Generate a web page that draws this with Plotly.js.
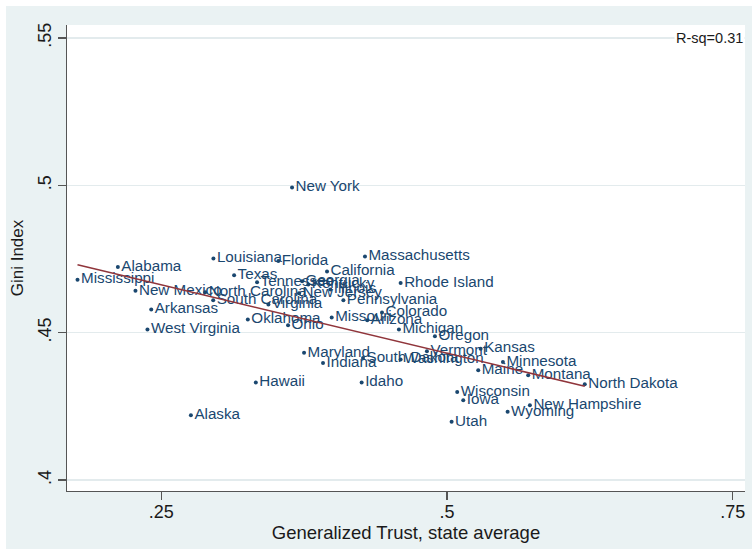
<!DOCTYPE html>
<html>
<head>
<meta charset="utf-8">
<script src="https://cdn.plot.ly/plotly-3.0.1.min.js"></script>
<style>
  html, body { margin: 0; padding: 0; background: #ffffff; }
  #chart { position: absolute; left: 6px; top: 6px; width: 746px; height: 543px; }
</style>
</head>
<body>
<div id="chart"></div>
<script>
// State-level generalized trust vs. Gini index
const states = [
  "New York", "Mississippi", "Alabama", "Louisiana", "New Mexico", "Arkansas",
  "West Virginia", "Texas", "North Carolina", "South Carolina", "Virginia",
  "Oklahoma", "Ohio", "Florida", "California", "Massachusetts", "Rhode Island",
  "Tennessee", "Georgia", "Kentucky", "Illinois", "New Jersey", "Pennsylvania",
  "Missouri", "Arizona", "Colorado", "Michigan", "Oregon", "Vermont",
  "South Dakota", "Washington", "Maryland", "Indiana", "Kansas", "Minnesota",
  "Maine", "Montana", "North Dakota", "Wisconsin", "Iowa", "New Hampshire",
  "Wyoming", "Utah", "Hawaii", "Idaho", "Alaska"
];
const trust = [
  0.3645, 0.1768, 0.2121, 0.2957, 0.2275, 0.2413,
  0.2380, 0.3138, 0.2885, 0.2955, 0.3438,
  0.3258, 0.3610, 0.3525, 0.3951, 0.4283, 0.4595,
  0.3339, 0.3733, 0.3787, 0.3980, 0.3706, 0.4094,
  0.3992, 0.4303, 0.4432, 0.4580, 0.4895, 0.4825,
  0.4266, 0.4595, 0.3750, 0.3916, 0.5295, 0.5490,
  0.5274, 0.5711, 0.6206, 0.5090, 0.5143, 0.5726,
  0.5531, 0.5041, 0.3328, 0.4254, 0.2760
];
const gini = [
  0.4993, 0.4680, 0.4723, 0.4752, 0.4642, 0.4579,
  0.4511, 0.4695, 0.4637, 0.4610, 0.4596,
  0.4545, 0.4525, 0.4743, 0.4708, 0.4759, 0.4669,
  0.4671, 0.4675, 0.4664, 0.4647, 0.4634, 0.4610,
  0.4552, 0.4542, 0.4569, 0.4511, 0.4488, 0.4437,
  0.4414, 0.4409, 0.4432, 0.4397, 0.4446, 0.4401,
  0.4373, 0.4356, 0.4325, 0.4299, 0.4271, 0.4254,
  0.4232, 0.4198, 0.4331, 0.4331, 0.4220
];
const xTickVals = [0.25, 0.5, 0.75];
const xTickText = [".25", ".5", ".75"];
const yTickVals = [0.4, 0.45, 0.5, 0.55];
const yTickText = [".4", ".45", ".5", ".55"];
const rsqLabel = "R-sq=0.31";

// Least-squares fitted line across the observed trust range
const n = trust.length;
const mx = trust.reduce((a, b) => a + b, 0) / n;
const my = gini.reduce((a, b) => a + b, 0) / n;
let sxy = 0, sxx = 0;
for (let i = 0; i < n; i++) {
  sxy += (trust[i] - mx) * (gini[i] - my);
  sxx += (trust[i] - mx) * (trust[i] - mx);
}
const slope = sxy / sxx;
const intercept = my - slope * mx;
const xMin = Math.min(...trust), xMax = Math.max(...trust);
const fitX = [xMin, xMax];
const fitY = fitX.map(v => intercept + slope * v);

const navy = "#1a476f";
const maroon = "#90353b";
const baseFont = "Liberation Sans, Arial, Helvetica, sans-serif";

const data = [
  {
    type: "scatter",
    mode: "markers+text",
    x: trust,
    y: gini,
    text: states,
    textposition: "middle right",
    textfont: { family: baseFont, size: 15.2, color: navy },
    marker: { color: navy, size: 4 },
    cliponaxis: false,
    hoverinfo: "text"
  },
  {
    type: "scatter",
    mode: "lines",
    x: fitX,
    y: fitY,
    line: { color: maroon, width: 1.6 },
    hoverinfo: "skip"
  }
];

const layout = {
  width: 746,
  height: 543,
  paper_bgcolor: "#eaf2f3",
  plot_bgcolor: "#ffffff",
  showlegend: false,
  margin: { l: 61, r: 7, t: 19, b: 58 },
  font: { family: baseFont, color: "#1a1a1a" },
  xaxis: {
    range: [0.1676, 0.7608],
    tickmode: "array",
    tickvals: xTickVals,
    ticktext: xTickText,
    ticks: "outside",
    ticklen: 8,
    tickwidth: 1.2,
    tickcolor: "#555555",
    ticklabelstandoff: -4,
    showline: true,
    linecolor: "#555555",
    linewidth: 1.3,
    showgrid: false,
    zeroline: false,
    tickfont: { size: 18, color: "#1a1a1a" },
    title: { text: "Generalized Trust, state average", font: { size: 18.5, color: "#1a1a1a" }, standoff: 2 }
  },
  yaxis: {
    range: [0.3963, 0.5544],
    tickmode: "array",
    tickvals: yTickVals,
    ticktext: yTickText,
    tickangle: -90,
    ticks: "outside",
    ticklen: 8,
    tickwidth: 1.2,
    tickcolor: "#555555",
    showline: true,
    linecolor: "#555555",
    linewidth: 1.3,
    showgrid: true,
    gridcolor: "#e3ebed",
    gridwidth: 1.2,
    zeroline: false,
    tickfont: { size: 18, color: "#1a1a1a" },
    title: { text: "Gini Index", font: { size: 17, color: "#1a1a1a" }, standoff: 6 }
  },
  annotations: [
    {
      xref: "paper", yref: "y",
      x: 1, y: 0.55,
      xanchor: "right", yanchor: "middle",
      text: rsqLabel,
      showarrow: false,
      font: { size: 14.5, color: "#1a1a1a" },
      bgcolor: "#ffffff"
    }
  ]
};

Plotly.newPlot("chart", data, layout, { displayModeBar: false, staticPlot: true });
</script>
</body>
</html>
